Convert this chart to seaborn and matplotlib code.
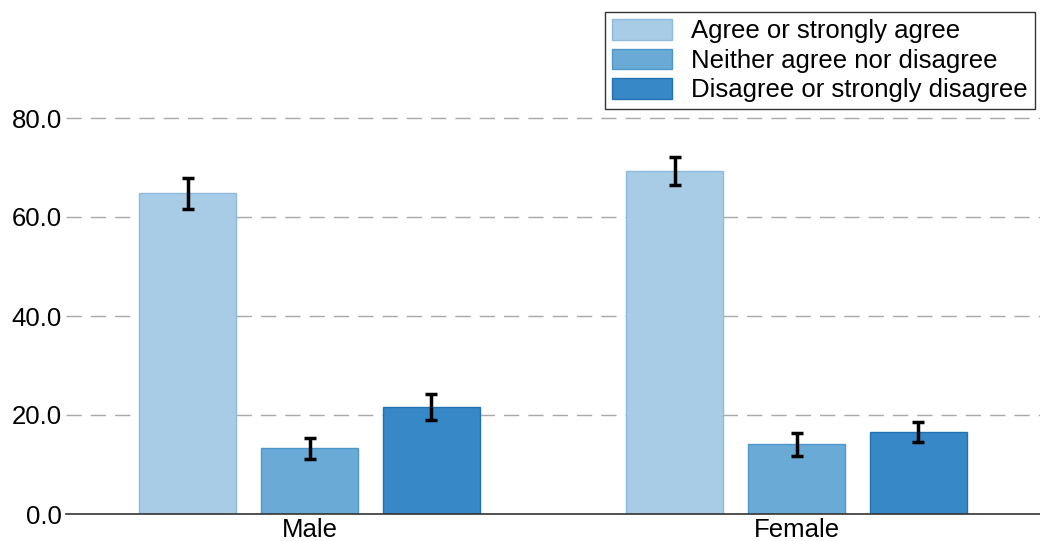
import numpy as np
import pandas as pd
import matplotlib
matplotlib.use("Agg")
import matplotlib.pyplot as plt
import seaborn as sns

# data
groups = ["Male", "Female"]
responses = ["Agree or strongly agree", "Neither agree nor disagree",
             "Disagree or strongly disagree"]
male_values = [64.8, 13.3, 21.6]
female_values = [69.3, 14.1, 16.6]
male_errors = [3.1, 2.1, 2.6]
female_errors = [2.9, 2.3, 2.0]
yticks = [0, 20, 40, 60, 80]

colors = ["#a9cce6", "#6aaad6", "#3788c6"]
edges = ["#8dbadd", "#4f97cb", "#2372b4"]

sns.set_theme(style="white")
plt.rcParams["font.family"] = ["Liberation Sans", "DejaVu Sans"]
plt.rcParams["text.color"] = "black"
plt.rcParams["xtick.color"] = "black"
plt.rcParams["ytick.color"] = "black"

df = pd.DataFrame({
    "group": np.repeat(groups, len(responses)),
    "response": responses * len(groups),
    "value": male_values + female_values,
    "err": male_errors + female_errors,
})

fig = plt.figure(figsize=(10.4, 5.41), dpi=100)
ax = fig.add_axes([66 / 1040, 1 - 514 / 541, 1 - 66 / 1040, (514 - 118) / 541])

sns.barplot(data=df, x="group", y="value", hue="response", order=groups,
            hue_order=responses, palette=colors, saturation=1, width=0.75, gap=0.2,
            errorbar=None, ax=ax, legend=False)

# colour edges and add error bars at bar centres
bar_containers = list(ax.containers)
for i, cont in enumerate(bar_containers):
    sub = df[df["response"] == responses[i]].set_index("group").loc[groups]
    xs = []
    for bar in cont:
        bar.set_edgecolor(edges[i])
        bar.set_linewidth(1)
        xs.append(bar.get_x() + bar.get_width() / 2)
    ax.errorbar(xs, sub["value"], yerr=sub["err"], fmt="none", ecolor="black",
                elinewidth=2.5, capsize=4.5, capthick=2.5, zorder=5)

ax.set_xlim(-0.5, 1.49)
ax.set_ylim(0, 80)
ax.set_yticks(yticks)
ax.set_yticklabels([f"{v:.1f}" for v in yticks])
for v in yticks[1:]:
    ax.axhline(v, color="#a8a8a8", lw=1, ls=(0, (11, 6.5)), zorder=0, clip_on=False)

ax.set_xticks([-0.5, 0.5, 1.5], minor=True)
ax.tick_params(axis="x", which="minor", direction="in", length=7, width=1, color="#333333")
ax.tick_params(axis="x", which="major", length=0, labelsize=18.5, pad=3)
ax.tick_params(axis="y", length=0, labelsize=18.5, pad=3)
ax.set_xlabel("")
ax.set_ylabel("")
for side in ["top", "right", "left"]:
    ax.spines[side].set_visible(False)
ax.spines["bottom"].set_color("#333333")
ax.spines["bottom"].set_linewidth(1.2)

handles = [plt.Rectangle((0, 0), 1, 1, facecolor=c, edgecolor=e) for c, e in zip(colors, edges)]
leg = fig.legend(handles, responses, loc="upper right",
                 bbox_to_anchor=(1035 / 1040, 1 - 12 / 541), fontsize=18.5,
                 frameon=True, fancybox=False, edgecolor="black",
                 handlelength=2.33, handleheight=0.86, labelspacing=0.2,
                 borderpad=0.28, handletextpad=0.75, borderaxespad=0)
leg.get_frame().set_linewidth(1.0)

fig.savefig("out.png", dpi=100)
